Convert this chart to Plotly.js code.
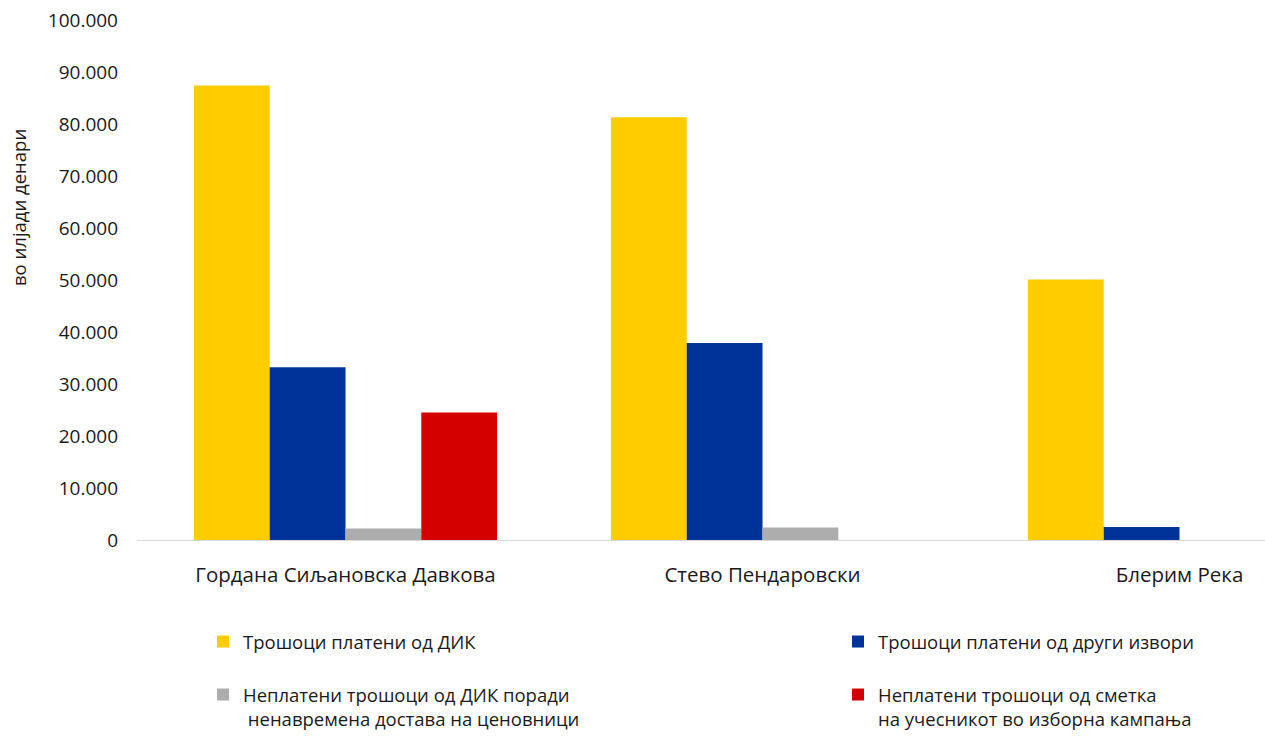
<!DOCTYPE html>
<html>
<head>
<meta charset="utf-8">
<script src="https://cdn.plot.ly/plotly-3.0.1.min.js"></script>
<style>html,body{margin:0;padding:0;background:#fff;}#chart{width:1265px;height:736px;}</style>
</head>
<body>
<div id="chart"></div>
<script>
const categories = ["Гордана Сиљановска Давкова", "Стево Пендаровски", "Блерим Река"];
const seriesNames = [
  "Трошоци платени од ДИК",
  "Трошоци платени од други извори",
  "Неплатени трошоци од ДИК поради<br>\u00A0ненавремена достава на ценовници",
  "Неплатени трошоци од сметка<br>на учесникот во изборна кампања"
];
const paidByDIK = [87400, 81300, 50100];
const paidOther = [33200, 37900, 2500];
const unpaidDIK = [2200, 2400, 0];
const unpaidAccount = [24500, 0, 0];
const colors = ["#FFCC00", "#003399", "#ADADAD", "#D40000"];
const yTitle = "во илјади денари";

const values = [paidByDIK, paidOther, unpaidDIK, unpaidAccount];
const legends = ["legend", "legend", "legend2", "legend2"];
const legendWidths = [590, 330, 590, 330];
const traces = values.map((v, i) => ({
  type: "bar",
  name: seriesNames[i],
  x: categories,
  y: v,
  marker: {color: colors[i], line: {width: 0}},
  legend: legends[i],
  legendwidth: legendWidths[i],
  hoverinfo: "skip"
}));

const font = {family: "Open Sans, Noto Sans, sans-serif", size: 19, color: "#1a1a1a"};
const legendBase = {
  orientation: "h",
  xref: "container", yref: "container",
  x: 203 / 1265, xanchor: "left",
  yanchor: "top",
  entrywidthmode: "pixels",
  valign: "top",
  font: {family: font.family, size: 18.5, color: "#1a1a1a"},
  bgcolor: "rgba(0,0,0,0)",
  traceorder: "normal"
};

const layout = {
  width: 1265, height: 736,
  margin: {l: 137, r: 0, t: 20, b: 196},
  paper_bgcolor: "#fff", plot_bgcolor: "#fff",
  font: font,
  separators: ",.",
  barmode: "group",
  bargap: 0.273,
  bargroupgap: 0,
  showlegend: true,
  xaxis: {
    type: "category",
    range: [-0.5, 2.205],
    showline: true, linecolor: "#d9d9d9", linewidth: 1,
    ticks: "", showgrid: false, zeroline: false,
    ticklabelstandoff: 16,
    tickfont: {size: 20.5}
  },
  yaxis: {
    range: [0, 100000], dtick: 10000, tickformat: ",d",
    showgrid: false, zeroline: false, showline: false, ticks: "",
    ticklabelstandoff: 18,
    tickfont: {size: 19}
  },
  legend: Object.assign({}, legendBase, {y: 1 - 623/736}),
  legend2: Object.assign({}, legendBase, {y: 1 - 676/736}),
  annotations: [{
    text: yTitle, textangle: -90,
    xref: "paper", yref: "paper",
    x: -(137 - 18) / 1128, y: (540 - 208) / 520,
    xanchor: "center", yanchor: "middle",
    showarrow: false,
    font: {size: 18.5, color: "#1a1a1a"}
  }]
};

Plotly.newPlot("chart", traces, layout, {displayModeBar: false, staticPlot: true});
</script>
</body>
</html>
